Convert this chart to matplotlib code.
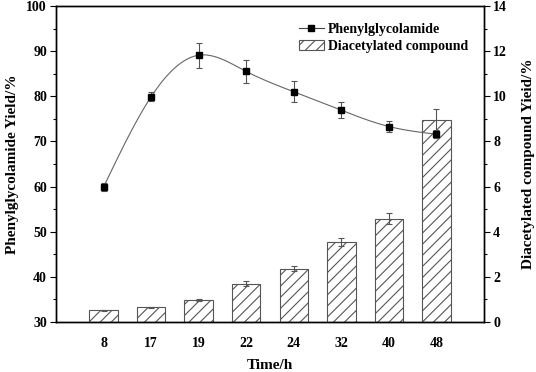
import matplotlib
matplotlib.use("Agg")
import matplotlib.pyplot as plt
import numpy as np
from matplotlib.ticker import MultipleLocator
from matplotlib.lines import Line2D
from matplotlib.patches import Patch

plt.rcParams["font.family"] = ["Liberation Serif", "DejaVu Serif"]
plt.rcParams["font.weight"] = "bold"
plt.rcParams["hatch.color"] = "#555555"
plt.rcParams["hatch.linewidth"] = 0.8

times = ["8", "17", "19", "22", "24", "32", "40", "48"]
phenyl_yield = [59.9, 79.9, 89.1, 85.5, 81.0, 76.9, 73.3, 71.6]
phenyl_err = [0.8, 1.0, 2.8, 2.6, 2.3, 1.8, 1.2, 0.8]
diacetyl_yield = [0.52, 0.66, 0.97, 1.70, 2.37, 3.55, 4.58, 8.97]
diacetyl_err = [0.02, 0.02, 0.05, 0.10, 0.12, 0.18, 0.25, 0.45]


def natural_spline(x, y, n=400):
    # plain natural cubic spline, only to draw the smooth connecting line
    x = np.asarray(x, float)
    y = np.asarray(y, float)
    h = np.diff(x)
    k = len(x)
    A = np.zeros((k, k))
    b = np.zeros(k)
    A[0, 0] = A[-1, -1] = 1
    for i in range(1, k - 1):
        A[i, i - 1] = h[i - 1]
        A[i, i] = 2 * (h[i - 1] + h[i])
        A[i, i + 1] = h[i]
        b[i] = 6 * ((y[i + 1] - y[i]) / h[i] - (y[i] - y[i - 1]) / h[i - 1])
    M = np.linalg.solve(A, b)
    xs = np.linspace(x[0], x[-1], n)
    idx = np.clip(np.searchsorted(x, xs) - 1, 0, k - 2)
    t0 = xs - x[idx]
    t1 = x[idx + 1] - xs
    hi = h[idx]
    ys = (M[idx] * t1**3 / (6 * hi) + M[idx + 1] * t0**3 / (6 * hi)
          + (y[idx] / hi - M[idx] * hi / 6) * t1
          + (y[idx + 1] / hi - M[idx + 1] * hi / 6) * t0)
    return xs, ys


pos = np.arange(len(times))

fig = plt.figure(figsize=(5.36, 3.72), dpi=100)
ax = fig.add_axes([0.1045, 0.1344, 0.7985, 0.8495])
ax2 = ax.twinx()

# bars on the right axis
ax2.bar(pos, diacetyl_yield, width=0.6, color="white", edgecolor="#555555",
        linewidth=0.8, hatch="///", zorder=2)
ax2.errorbar(pos, diacetyl_yield, yerr=diacetyl_err, fmt="none",
             ecolor="#555555", elinewidth=0.8, capsize=2.5, capthick=0.8, zorder=3)

# line on the left axis, drawn above the bars
ax.set_zorder(ax2.get_zorder() + 1)
ax.patch.set_visible(False)
xs, ys = natural_spline(pos, phenyl_yield)
ax.plot(xs, ys, color="#666666", linewidth=0.8, zorder=2)
ax.errorbar(pos, phenyl_yield, yerr=phenyl_err, fmt="none",
            ecolor="#555555", elinewidth=0.8, capsize=2.5, capthick=0.8, zorder=3)
ax.plot(pos, phenyl_yield, "s", color="black", markersize=5, zorder=4)

ax.set_xlim(-1, len(times))
ax.set_ylim(30, 100)
ax2.set_ylim(0, 14)
ax.set_xticks(pos)
ax.set_xticklabels(times)
ax.yaxis.set_major_locator(MultipleLocator(10))
ax.yaxis.set_minor_locator(MultipleLocator(5))
ax2.yaxis.set_major_locator(MultipleLocator(2))
ax2.yaxis.set_minor_locator(MultipleLocator(1))

ax.tick_params(axis="x", length=0, pad=11, labelsize=10)
for a in (ax, ax2):
    a.tick_params(axis="y", which="major", direction="out", length=4.5, width=0.8,
                  labelsize=10, pad=2)
    a.tick_params(axis="y", which="minor", direction="out", length=2.5, width=0.8)
    for s in a.spines.values():
        s.set_linewidth(1.0)

ax.set_xlabel("Time/h", fontsize=11, fontweight="bold", labelpad=6)
ax.set_ylabel("Phenylglycolamide Yield/%", fontsize=11, fontweight="bold", labelpad=5)
ax2.set_ylabel("Diacetylated compound Yieid/%", fontsize=11, fontweight="bold", labelpad=11)

# legend
handles = [
    Line2D([], [], color="#444444", linewidth=0.8, marker="s", markersize=4.5,
           markerfacecolor="black", markeredgecolor="black"),
    Patch(facecolor="white", edgecolor="#555555", hatch="///", linewidth=0.8),
]
ax.legend(handles, ["Phenylglycolamide", "Diacetylated compound"],
          loc="upper right", bbox_to_anchor=(0.976, 0.964), frameon=False,
          fontsize=10, handlelength=1.8, handletextpad=0.3, labelspacing=0.3,
          borderaxespad=0)

fig.savefig("out.png", dpi=100)
